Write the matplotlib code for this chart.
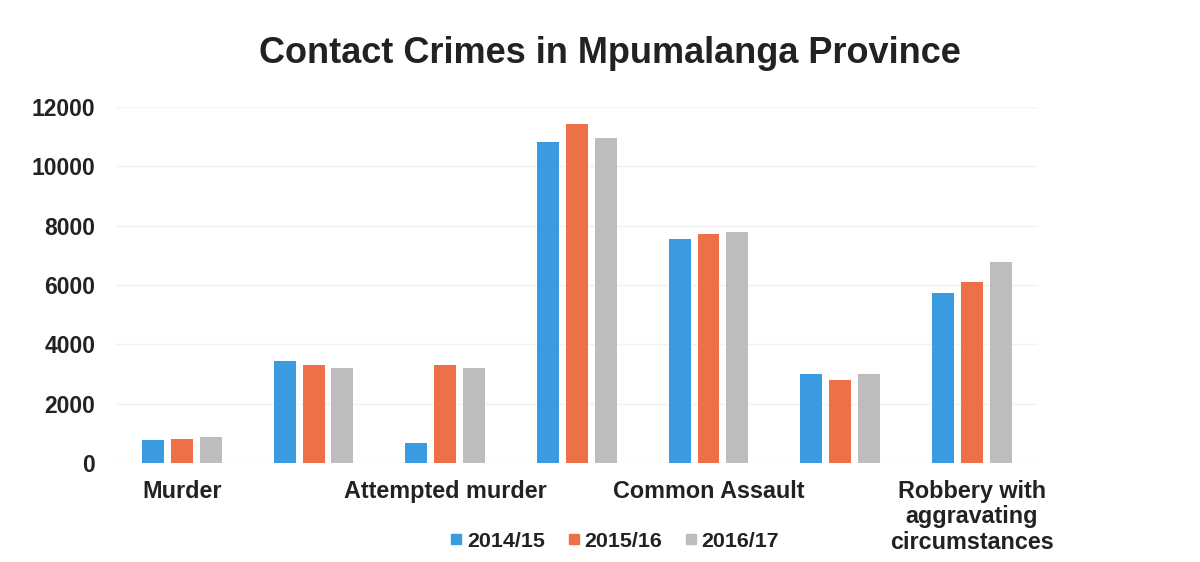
import numpy as np
import matplotlib
matplotlib.use('Agg')
import matplotlib.pyplot as plt
from matplotlib.lines import Line2D

categories = ['Murder', '', 'Attempted murder', '', 'Common Assault', '',
              'Robbery with\naggravating\ncircumstances']
years = ['2014/15', '2015/16', '2016/17']
v_2014 = [780, 3450, 690, 10830, 7550, 2990, 5720]
v_2015 = [800, 3290, 3310, 11410, 7710, 2800, 6090]
v_2016 = [890, 3210, 3210, 10940, 7770, 3000, 6780]
colors = ['#3A9BE0', '#EE7047', '#BDBDBD']

plt.rcParams['font.family'] = ['Liberation Sans', 'DejaVu Sans']
text_col = '#222222'

fig = plt.figure(figsize=(12, 5.62), dpi=100)
ax = fig.add_axes([0.0967, 0.176, 0.768, 0.634])

x = np.arange(len(categories))
step = 0.22
width = 0.167
for i, (vals, c) in enumerate(zip([v_2014, v_2015, v_2016], colors)):
    ax.bar(x + (i - 1) * step, vals, width=width, color=c, zorder=2)

ax.set_xlim(-0.5, len(categories) - 0.5)
ax.set_ylim(0, 12000)
ax.set_yticks(np.arange(0, 12001, 2000))
ax.yaxis.grid(True, color='#f2f2f2', linewidth=1, zorder=0)
for s in ax.spines.values():
    s.set_visible(False)

ax.set_xticks(x)
ax.set_xticklabels(categories, fontsize=16.8, fontweight='bold', color=text_col,
                   linespacing=1.14, va='top')
ax.tick_params(axis='x', length=0, pad=12)
ax.tick_params(axis='y', length=0, pad=15, labelsize=16.5, labelcolor=text_col)
for lab in ax.get_yticklabels():
    lab.set_fontweight('bold')

fig.text(0.508, 0.905, 'Contact Crimes in Mpumalanga Province', ha='center', va='center',
         fontsize=26, fontweight='bold', color=text_col)

handles = [Line2D([], [], marker='s', linestyle='none', markersize=7, color=c) for c in colors]
leg = fig.legend(handles, years, loc='center', bbox_to_anchor=(0.512, 0.037), ncol=3,
                 frameon=False, handlelength=0.6, handletextpad=0.2, columnspacing=1.05,
                 prop={'size': 15.4, 'weight': 'bold'})
for t in leg.get_texts():
    t.set_color(text_col)

fig.savefig('out.png', dpi=100, facecolor='white')
